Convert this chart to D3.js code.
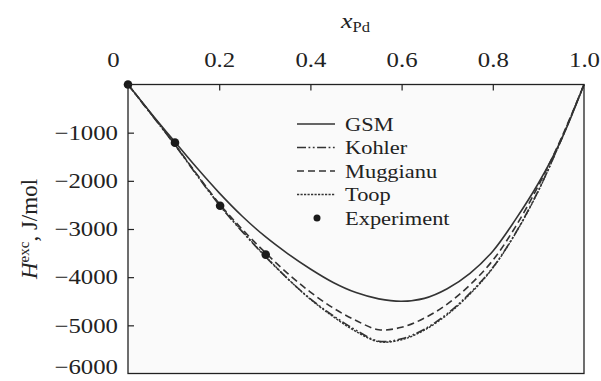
<!DOCTYPE html>
<html><head><meta charset="utf-8">
<script src="https://cdn.jsdelivr.net/npm/d3@7"></script>
<style>
html,body{margin:0;padding:0;background:#fff;}
svg text{font-family:"Liberation Serif","Times New Roman",serif;fill:#222;}
</style></head>
<body>
<svg id="c" width="601" height="381"></svg>
<script>
// ---- data ----
const xGrid = [0,0.05,0.1,0.15,0.2,0.25,0.3,0.35,0.4,0.45,0.5,0.55,0.6,0.65,0.7,0.75,0.8,0.85,0.9,0.95,1.0];
const gsm      = [0,-590,-1160,-1720,-2250,-2730,-3150,-3510,-3830,-4110,-4320,-4450,-4500,-4440,-4240,-3920,-3460,-2800,-2050,-1150,0];
const kohler   = [0,-610,-1220,-1870,-2500,-3050,-3560,-4030,-4450,-4800,-5100,-5330,-5280,-5080,-4760,-4330,-3800,-3080,-2200,-1150,0];
const muggianu = [0,-600,-1210,-1850,-2470,-3000,-3480,-3920,-4310,-4640,-4900,-5090,-5040,-4850,-4560,-4160,-3650,-2950,-2100,-1120,0];
const toop     = [0,-600,-1210,-1860,-2490,-3040,-3550,-4030,-4460,-4820,-5130,-5340,-5300,-5100,-4780,-4350,-3810,-3090,-2210,-1150,0];
const expX = [0.0,0.103,0.202,0.302];
const expY = [0,-1207,-2517,-3532];
const xTicks = [0,0.2,0.4,0.6,0.8,1.0];
const xTickLabels = ["0","0.2","0.4","0.6","0.8","1.0"];
const yTicks = [-1000,-2000,-3000,-4000,-5000,-6000];
const seriesNames = ["GSM","Kohler","Muggianu","Toop"];
const seriesData = [gsm,kohler,muggianu,toop];
const seriesDash = [null,"9,2.5,1.8,2.5,1.8,2.5","7,4","2.2,1.3"];
const seriesWidth = [1.6,1.6,1.6,1.4];

const svg = d3.select("#c");
const x = d3.scaleLinear().domain([0,1]).range([128,584]);
const y = d3.scaleLinear().domain([0,-6000]).range([84.5,373.5]);
const STRETCH = 1.18;

// plot background
svg.append("rect").attr("x",x(0)).attr("y",y(0)).attr("width",x(1)-x(0)).attr("height",y(-6000)-y(0))
  .attr("fill","#fafafa");

// curves
const line = d3.line().x(d=>x(d[0])).y(d=>y(d[1])).curve(d3.curveCatmullRom.alpha(0.5));
seriesData.forEach((s,i)=>{
  svg.append("path").datum(xGrid.map((xv,j)=>[xv,s[j]]))
    .attr("d",line).attr("fill","none").attr("stroke","#333")
    .attr("stroke-width",seriesWidth[i])
    .attr("stroke-dasharray",seriesDash[i]);
});

// experiment points
svg.selectAll("circle.exp").data(expX.map((v,i)=>[v,expY[i]])).enter().append("circle")
  .attr("class","exp").attr("cx",d=>x(d[0])).attr("cy",d=>y(d[1])).attr("r",4.3).attr("fill","#1a1a1a");

// frame
svg.append("rect").attr("x",x(0)).attr("y",y(0)).attr("width",x(1)-x(0)).attr("height",y(-6000)-y(0))
  .attr("fill","none").attr("stroke","#222").attr("stroke-width",1.3);

// top axis
const ax = svg.append("g").attr("transform",`translate(0,${y(0)})`)
  .call(d3.axisTop(x).tickValues(xTicks).tickSize(-6).tickPadding(18).tickFormat((d,i)=>xTickLabels[i]));
ax.select(".domain").remove();
ax.selectAll(".tick line").attr("stroke","#222").attr("stroke-width",1.2)
  .filter(d=>d===0||d===1).remove();
ax.selectAll(".tick text").attr("font-size",21).attr("font-family",null).attr("fill","#222")
  .attr("dx",d=>d===0?-15:0);

// left axis
const ay = svg.append("g").attr("transform",`translate(${x(0)},0)`)
  .call(d3.axisLeft(y).tickValues(yTicks).tickSize(-6).tickPadding(10).tickFormat(d3.format("d")));
ay.select(".domain").remove();
ay.selectAll(".tick line").attr("stroke","#222").attr("stroke-width",1.2).filter(d=>d===-6000).remove();
ay.selectAll(".tick text").attr("font-size",21).attr("font-family",null).attr("fill","#222")
  .attr("dy",d=>d===-6000?"0.02em":"0.32em");

// axis titles
const xt = svg.append("text").attr("x",341).attr("y",28).attr("font-size",22);
xt.append("tspan").attr("font-style","italic").text("x");
xt.append("tspan").attr("font-size",14).attr("dy",4).text("Pd");

const yt = svg.append("text").attr("transform","translate(37,229) rotate(-90)").attr("text-anchor","middle").attr("font-size",23);
yt.append("tspan").attr("font-style","italic").text("H");
yt.append("tspan").attr("font-size",15).attr("dy",-8).text("exc");
yt.append("tspan").attr("dy",8).text(", J/mol");

// legend
const legY0 = 124, legDy = 23.5;
seriesNames.forEach((n,i)=>{
  const yy = legY0 + i*legDy;
  svg.append("line").attr("x1",297).attr("x2",335).attr("y1",yy).attr("y2",yy)
    .attr("stroke","#333").attr("stroke-width",seriesWidth[i]).attr("stroke-dasharray",seriesDash[i]);
  svg.append("text").attr("class","leg").attr("x",345).attr("y",yy+6.5).attr("font-size",19).text(n);
});
const ey = legY0 + 4*legDy;
svg.append("circle").attr("cx",317).attr("cy",ey).attr("r",3.5).attr("fill","#1a1a1a");
svg.append("text").attr("class","leg").attr("x",345).attr("y",ey+6.5).attr("font-size",19).text("Experiment");

// horizontal stretch of glyphs to match reference proportions
svg.selectAll("text").each(function(){
  if (this === yt.node()) return;
  const w = this.getComputedTextLength();
  d3.select(this).attr("textLength", w*STRETCH).attr("lengthAdjust","spacingAndGlyphs");
});
</script>
</body></html>
